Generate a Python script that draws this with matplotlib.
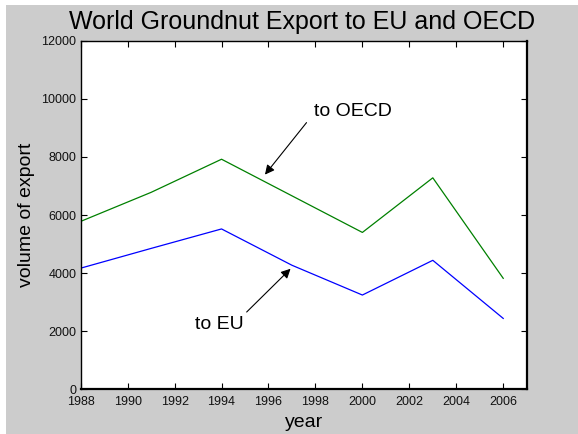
import matplotlib
matplotlib.use('Agg')
import matplotlib.pyplot as plt
from matplotlib.patches import Rectangle

plt.rcParams['font.family'] = ['Liberation Sans', 'DejaVu Sans']

# données
years = [1988, 1991, 1994, 1997, 2000, 2003, 2006]
to_oecd = [5780, 6780, 7920, 6660, 5400, 7280, 3820]
to_eu = [4170, 4850, 5520, 4270, 3245, 4440, 2440]

x_ticks = list(range(1988, 2007, 2))
y_ticks = list(range(0, 12001, 2000))

fig = plt.figure(figsize=(5.78, 4.34), dpi=100)
fig.patch.set_facecolor('white')
# fond gris style matlab
fig.patches.append(Rectangle((6 / 578, 0), 1, 1 - 5 / 434, transform=fig.transFigure,
                             facecolor='#cccccc', edgecolor='none', zorder=-1))

ax = fig.add_axes([80.7 / 578, 1 - 389.3 / 434, (526.7 - 80.7) / 578, (389.3 - 40.7) / 434])
ax.set_facecolor('white')

ax.plot(years, to_oecd, color='#008000', lw=0.9)
ax.plot(years, to_eu, color='#0000ff', lw=0.9)

ax.set_xlim(1988, 2007)
ax.set_ylim(0, 12000)
ax.set_xticks(x_ticks)
ax.set_yticks(y_ticks)
ax.tick_params(direction='in', length=4, width=0.8, labelsize=9, top=True, right=True,
               colors='black', labelcolor='#111111')
ax.tick_params(axis='x', pad=5)
ax.tick_params(axis='y', pad=3)
for s in ax.spines.values():
    s.set_linewidth(1.0)
ax.spines['bottom'].set_linewidth(1.6)
ax.spines['right'].set_linewidth(1.6)

fig.text(302 / 578, 1 - 29 / 434, 'World Groundnut Export to EU and OECD', fontsize=18,
         ha='center', va='baseline')
ax.set_xlabel('year', fontsize=14, labelpad=4)
ax.set_ylabel('volume of export', fontsize=14, labelpad=5)

# annotations
arrow = dict(arrowstyle='-|>', color='black', lw=0.8, mutation_scale=14, shrinkA=0, shrinkB=0)
ax.annotate('', xy=(1995.85, 7390), xytext=(1997.62, 9180), arrowprops=arrow)
ax.text(1997.94, 9580, 'to OECD', fontsize=14, ha='left', va='center')
ax.annotate('', xy=(1996.94, 4150), xytext=(1995.07, 2660), arrowprops=arrow)
ax.text(1992.87, 2240, 'to EU', fontsize=14, ha='left', va='center')

fig.savefig('out.png', dpi=100)
